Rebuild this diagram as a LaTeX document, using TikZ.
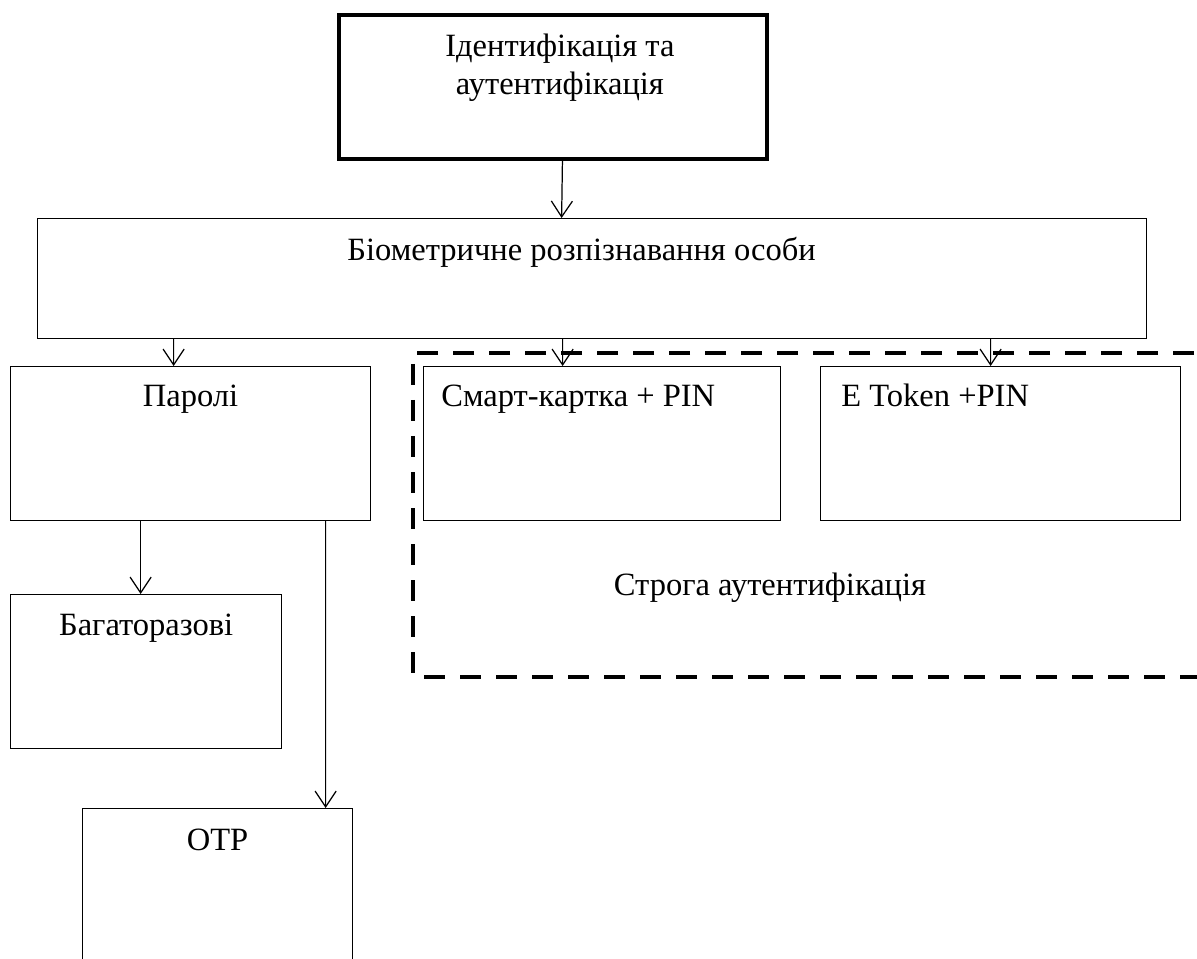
\documentclass[tikz,border=0pt]{standalone}
\usepackage{fontspec}
\setmainfont{Liberation Serif}
\usetikzlibrary{arrows.meta,positioning}

\begin{document}
\begin{tikzpicture}[x=1cm,y=1cm,
    box/.style={draw, line width=0.7pt, anchor=north west, inner sep=0pt},
    ttl/.style={anchor=base, inner sep=0pt, font=\fontsize{18.5}{20}\selectfont},
    arr/.style={-{Straight Barb[length=9pt,width=12pt]}, line width=0.7pt},
    frame/.style={line width=2.8pt, dash pattern=on 0.42cm off 0.3cm}]
                        \useasboundingbox (0,0) rectangle (23.94,-19.18);

                        \node[box, line width=2.2pt, minimum width=8.56cm, minimum height=2.88cm,
                              label={[ttl, anchor=north, align=center, font=\fontsize{18.5}{21.5}\selectfont,
                                      xshift=0.14cm, yshift=-0.42cm]north:Ідентифікація та\\аутентифікація}]
                              (ident) at (6.74,-0.26) {};
                        \node[box, minimum width=22.18cm, minimum height=2.4cm,
                              label={[ttl, xshift=-0.21cm, yshift=-0.86cm]north:Біометричне розпізнавання особи}]
                              (bio) at (0.74,-4.36) {};
                        \node[box, minimum width=7.2cm, minimum height=3.08cm,
                              label={[ttl, yshift=-0.82cm]north:Паролі}]
                              (pass) at (0.2,-7.32) {};
                        \node[box, minimum width=7.14cm, minimum height=3.08cm,
                              label={[ttl, anchor=base west, xshift=0.36cm, yshift=-0.82cm]north west:Смарт-картка + PIN}]
                              (smart) at (8.46,-7.32) {};
                        \node[box, minimum width=7.2cm, minimum height=3.08cm,
                              label={[ttl, anchor=base west, xshift=0.42cm, yshift=-0.82cm]north west:E Token +PIN}]
                              (etoken) at (16.4,-7.32) {};
                        \node[box, minimum width=5.42cm, minimum height=3.08cm,
                              label={[ttl, yshift=-0.82cm]north:Багаторазові}]
                              (multi) at (0.2,-11.88) {};
                        \node[box, minimum width=5.4cm, minimum height=3.08cm,
                              label={[ttl, yshift=-0.84cm]north:OTP}]
                              (otp) at (1.64,-16.16) {};

                        % strong authentication group
                        \draw[frame] (24.6,-7.06) -- (8.26,-7.06) -- (8.26,-13.54) -- (24.6,-13.54);
                        \node[ttl] (strong) at (15.4,-11.9) {Строга аутентифікація};

                        \draw[arr] ([xshift=0.19cm]ident.south) -- ([xshift=-0.61cm]bio.north);
                        \draw[arr] ([xshift=-8.37cm]bio.south) -- ([xshift=-0.34cm]pass.north);
                        \draw[arr] ([xshift=-0.59cm]bio.south) -- ([xshift=-0.79cm]smart.north);
                        \draw[arr] ([xshift=7.97cm]bio.south) -- ([xshift=-0.20cm]etoken.north);
                        \draw[arr] ([xshift=-1.00cm]pass.south) -- ([xshift=-0.11cm]multi.north);
                        \draw[arr] ([xshift=2.70cm]pass.south) -- ([xshift=2.16cm]otp.north);
\end{tikzpicture}
\end{document}
